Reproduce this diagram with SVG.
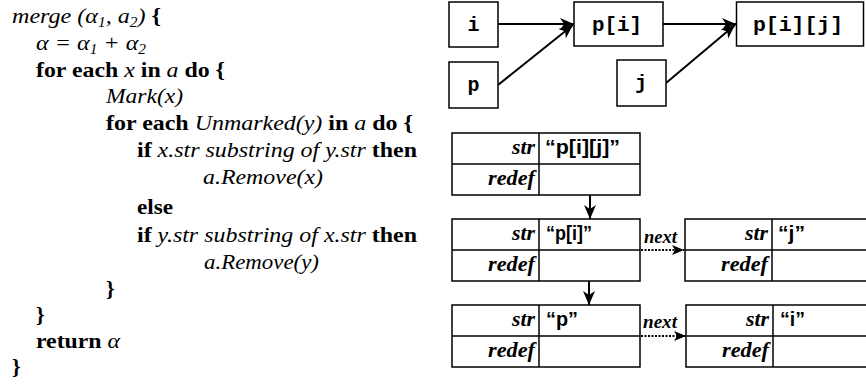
<svg xmlns="http://www.w3.org/2000/svg" width="866" height="387" viewBox="0 0 866 387">
<style>
.code{font-family:"Liberation Serif","Times New Roman",serif;font-size:22px;fill:#000}
.b{font-weight:bold}
.i{font-style:italic}
.n{font-weight:normal}
.sub{font-size:14px}
.box{fill:#fff;stroke:#000;stroke-width:1.5}
.mono{font-family:"Liberation Mono","Courier New",monospace;font-weight:bold;font-size:20px;text-anchor:middle}
.cell{fill:#fff;stroke:#000;stroke-width:1.5}
.lbl{font-family:"Liberation Serif","Times New Roman",serif;font-weight:bold;font-style:italic;font-size:20px;text-anchor:end}
.val{font-family:"Liberation Sans",Arial,sans-serif;font-weight:bold;font-size:20px}
.nx{font-family:"Liberation Serif","Times New Roman",serif;font-weight:bold;font-style:italic;font-size:18px}
.conn{fill:none;stroke:#000;stroke-width:2}
.dot{fill:none;stroke:#000;stroke-width:2;stroke-dasharray:2,1.5}
</style>
<defs>
<marker id="ah" markerUnits="userSpaceOnUse" markerWidth="14" markerHeight="12" refX="14" refY="6" orient="auto" viewBox="0 0 14 12"><path d="M0,0 L14,6 L0,12 L4,6 z" fill="#000"/></marker>
<marker id="ahs" markerUnits="userSpaceOnUse" markerWidth="12" markerHeight="10" refX="12" refY="5" orient="auto" viewBox="0 0 12 10"><path d="M0,0 L12,5 L0,10 L3,5 z" fill="#000"/></marker>
</defs>
<g id="pseudocode">
<text class="code i" x="12" y="23" textLength="149" lengthAdjust="spacingAndGlyphs">merge (α<tspan class="sub" dy="4">1</tspan><tspan dy="-4">, a</tspan><tspan class="sub" dy="4">2</tspan><tspan dy="-4">) </tspan><tspan class="b" font-style="normal">{</tspan></text>
<text class="code i" x="36" y="50" textLength="110" lengthAdjust="spacingAndGlyphs">α = α<tspan class="sub" dy="4">1</tspan><tspan dy="-4"> + α</tspan><tspan class="sub" dy="4">2</tspan></text>
<text class="code b" x="36" y="77" textLength="189" lengthAdjust="spacingAndGlyphs">for each <tspan class="i n">x</tspan> in <tspan class="i n">a</tspan> do {</text>
<text class="code i" x="106" y="103" textLength="77" lengthAdjust="spacingAndGlyphs">Mark(x)</text>
<text class="code b" x="106" y="130" textLength="307" lengthAdjust="spacingAndGlyphs">for each <tspan class="i n">Unmarked(y)</tspan> in <tspan class="i n">a</tspan> do {</text>
<text class="code b" x="137" y="157" textLength="280" lengthAdjust="spacingAndGlyphs">if <tspan class="i n">x.str substring of y.str</tspan> then</text>
<text class="code i" x="203" y="184" textLength="120" lengthAdjust="spacingAndGlyphs">a.Remove(x)</text>
<text class="code b" x="137" y="214" textLength="36" lengthAdjust="spacingAndGlyphs">else</text>
<text class="code b" x="137" y="242" textLength="280" lengthAdjust="spacingAndGlyphs">if <tspan class="i n">y.str substring of x.str</tspan> then</text>
<text class="code i" x="204" y="269" textLength="115" lengthAdjust="spacingAndGlyphs">a.Remove(y)</text>
<text class="code b" x="106" y="296">}</text>
<text class="code b" x="36" y="322">}</text>
<text class="code b" x="36" y="348" textLength="84" lengthAdjust="spacingAndGlyphs">return <tspan class="i n">α</tspan></text>
<text class="code b" x="12" y="374">}</text>
</g>
<g id="connectors">
<line class="conn" x1="498" y1="24" x2="574" y2="24" marker-end="url(#ah)"/>
<line class="conn" x1="498" y1="85" x2="573" y2="25" marker-end="url(#ah)"/>
<line class="conn" x1="663" y1="24" x2="736" y2="24" marker-end="url(#ah)"/>
<line class="conn" x1="666" y1="83" x2="735" y2="25" marker-end="url(#ah)"/>
<path class="conn" d="M539,185 H590 V219" marker-end="url(#ah)"/>
<path class="conn" d="M539,266 H589 V305" marker-end="url(#ah)"/>
<line class="dot" x1="641" y1="250" x2="684" y2="250" marker-end="url(#ahs)"/>
<line class="dot" x1="641" y1="336" x2="686" y2="336" marker-end="url(#ahs)"/>
<text class="nx" x="644" y="243" textLength="33" lengthAdjust="spacingAndGlyphs">next</text>
<text class="nx" x="643" y="328" textLength="34" lengthAdjust="spacingAndGlyphs">next</text>
</g>
<g id="node-i"><rect class="box" x="449" y="2" width="49" height="45"/><text class="mono" x="473.5" y="31">i</text></g>
<g id="node-p"><rect class="box" x="449" y="62" width="49" height="46"/><text class="mono" x="473.5" y="91">p</text></g>
<g id="node-pi"><rect class="box" x="574" y="2" width="89" height="44"/><text class="mono" x="617" y="31" textLength="50" lengthAdjust="spacingAndGlyphs">p[i]</text></g>
<g id="node-j"><rect class="box" x="617" y="60" width="49" height="46"/><text class="mono" x="641" y="89">j</text></g>
<g id="node-pij"><rect class="box" x="736.5" y="2" width="127" height="44"/><text class="mono" x="798" y="31" textLength="90" lengthAdjust="spacingAndGlyphs">p[i][j]</text></g>
<g id="rec-pij">
<rect class="cell" x="452" y="133" width="188" height="62"/><line class="cell" x1="452" y1="164" x2="640" y2="164"/><line class="cell" x1="539" y1="133" x2="539" y2="195"/>
<text class="lbl" x="535" y="154" textLength="23" lengthAdjust="spacingAndGlyphs">str</text><text class="lbl" x="535" y="185" textLength="47" lengthAdjust="spacingAndGlyphs">redef</text><text class="val" x="545" y="154" textLength="75" lengthAdjust="spacingAndGlyphs">“p[i][j]”</text>
</g>
<g id="rec-pi">
<rect class="cell" x="452" y="219" width="188" height="62"/><line class="cell" x1="452" y1="250" x2="640" y2="250"/><line class="cell" x1="539" y1="219" x2="539" y2="281"/>
<text class="lbl" x="535" y="240" textLength="23" lengthAdjust="spacingAndGlyphs">str</text><text class="lbl" x="535" y="271" textLength="47" lengthAdjust="spacingAndGlyphs">redef</text><text class="val" x="546" y="240" textLength="46" lengthAdjust="spacingAndGlyphs">“p[i]”</text>
</g>
<g id="rec-p">
<rect class="cell" x="452" y="305" width="188" height="62"/><line class="cell" x1="452" y1="336" x2="640" y2="336"/><line class="cell" x1="539" y1="305" x2="539" y2="367"/>
<text class="lbl" x="535" y="326" textLength="23" lengthAdjust="spacingAndGlyphs">str</text><text class="lbl" x="535" y="357" textLength="47" lengthAdjust="spacingAndGlyphs">redef</text><text class="val" x="546" y="326" textLength="32" lengthAdjust="spacingAndGlyphs">“p”</text>
</g>
<g id="rec-j">
<rect class="cell" x="685" y="219" width="190" height="62"/><line class="cell" x1="685" y1="250" x2="875" y2="250"/><line class="cell" x1="772" y1="219" x2="772" y2="281"/>
<text class="lbl" x="768" y="240" textLength="23" lengthAdjust="spacingAndGlyphs">str</text><text class="lbl" x="768" y="271" textLength="47" lengthAdjust="spacingAndGlyphs">redef</text><text class="val" x="778" y="240" textLength="27" lengthAdjust="spacingAndGlyphs">“j”</text>
</g>
<g id="rec-i">
<rect class="cell" x="686" y="305" width="190" height="62"/><line class="cell" x1="686" y1="336" x2="876" y2="336"/><line class="cell" x1="773" y1="305" x2="773" y2="367"/>
<text class="lbl" x="769" y="326" textLength="23" lengthAdjust="spacingAndGlyphs">str</text><text class="lbl" x="769" y="357" textLength="47" lengthAdjust="spacingAndGlyphs">redef</text><text class="val" x="780" y="326" textLength="25" lengthAdjust="spacingAndGlyphs">“i”</text>
</g>
</svg>
